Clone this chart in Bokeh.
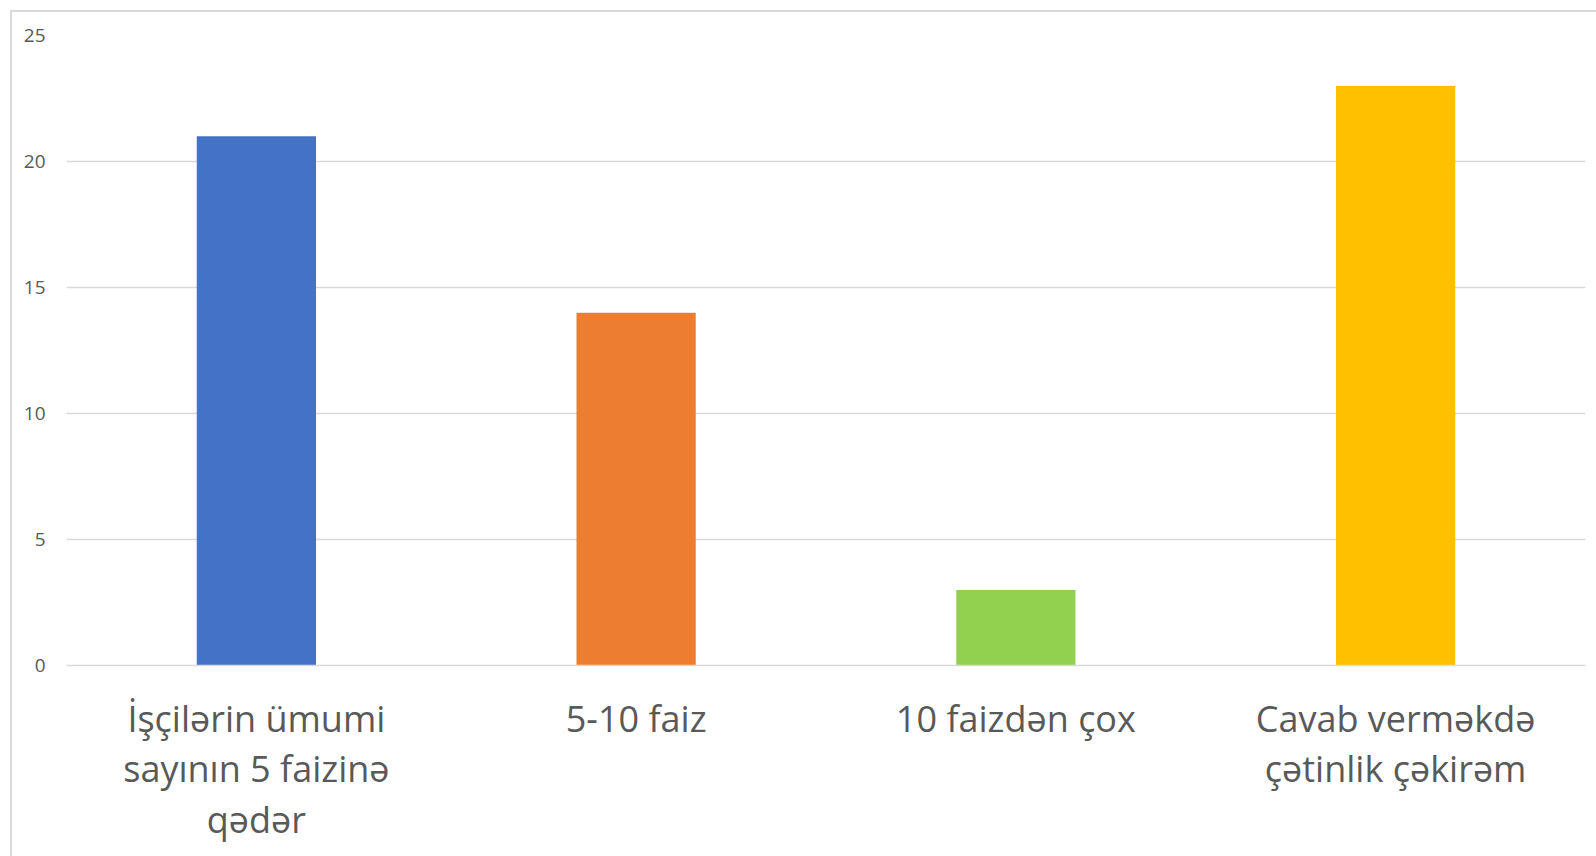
from bokeh.plotting import figure
from bokeh.models import ColumnDataSource, FixedTicker
from bokeh.embed import file_html
from bokeh.resources import INLINE

labels = ["İşçilərin ümumi\nsayının 5 faizinə\nqədər", "5-10 faiz", "10 faizdən çox", "Cavab verməkdə\nçətinlik çəkirəm"]
values = [21, 14, 3, 23]
colors = ["#4472C4", "#ED7D31", "#92D050", "#FFC000"]
y_ticks = [0, 5, 10, 15, 20, 25]

src = ColumnDataSource(dict(k=labels, v=values, c=colors))

p = figure(x_range=labels, y_range=(0, 25), width=1586, height=846,
           output_backend="svg", toolbar_location=None,
           min_border_left=54, min_border_right=13, min_border_top=23, min_border_bottom=193)
p.styles = {"border-top": "2px solid #d9d9d9", "border-left": "2px solid #d9d9d9",
            "box-sizing": "border-box", "margin": "10px 0 0 10px"}
p.vbar(x="k", top="v", width=0.314, color="c", source=src, line_color=None)

p.outline_line_color = None
p.xgrid.grid_line_color = None
p.ygrid.grid_line_color = "#d9d9d9"
p.ygrid.grid_line_width = 1.5
p.yaxis.ticker = FixedTicker(ticks=y_ticks)
p.yaxis.axis_line_color = None
p.yaxis.major_tick_line_color = None
p.yaxis.minor_tick_line_color = None
p.yaxis.major_label_text_font = "Open Sans"
p.yaxis.major_label_text_font_size = "19px"
p.yaxis.major_label_text_color = "#595959"
p.yaxis.major_label_standoff = 15

p.xaxis.axis_line_color = "#d9d9d9"
p.xaxis.axis_line_width = 1.5
p.xaxis.major_tick_line_color = None
p.xaxis.minor_tick_line_color = None
p.xaxis.major_label_text_font = "Open Sans"
p.xaxis.major_label_text_font_size = "36px"
p.xaxis.major_label_text_color = "#595959"
p.xaxis.major_label_standoff = 22
p.xaxis.major_label_text_line_height = 1.04

open("out.html", "w").write(file_html(p, INLINE))
